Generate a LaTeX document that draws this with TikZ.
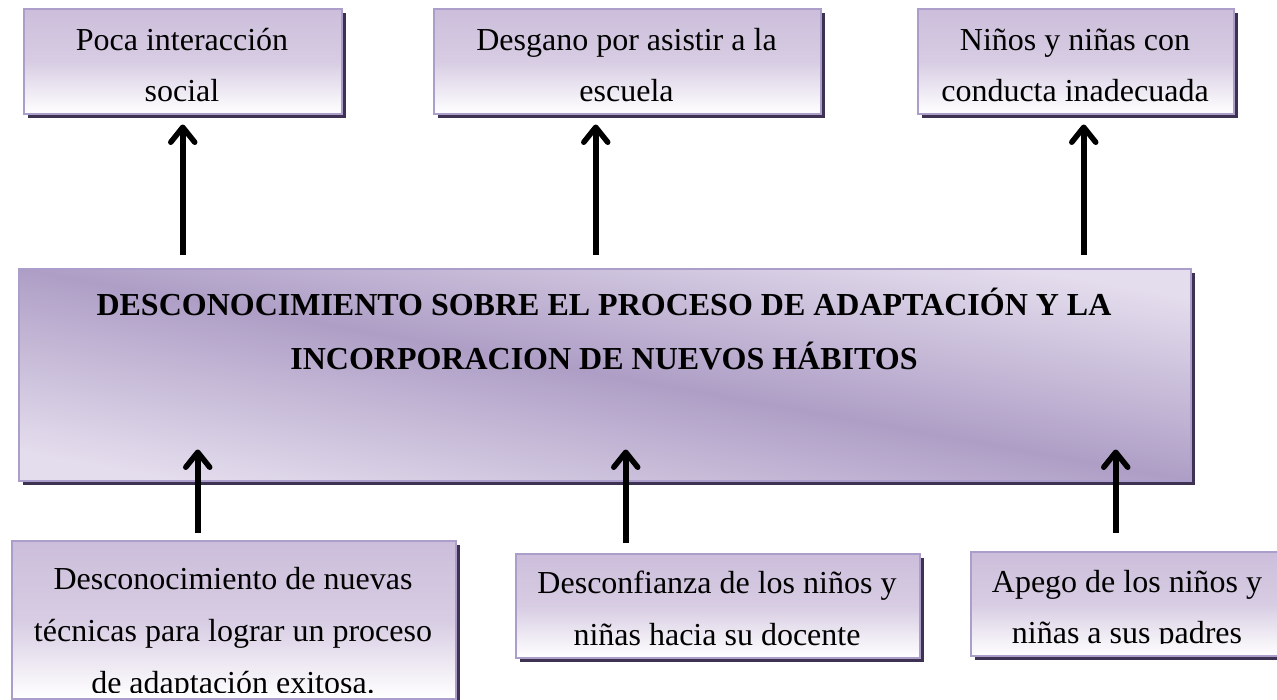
\documentclass[tikz,border=0pt]{standalone}
\usepackage{fontspec}
\setmainfont{Liberation Serif}
\usetikzlibrary{arrows.meta,shadows}
\definecolor{lavtop}{RGB}{204,190,219}
\definecolor{lavborder}{RGB}{172,158,202}
\definecolor{shadowc}{RGB}{62,50,82}
\definecolor{mainlight}{RGB}{228,221,237}
\definecolor{maindark}{RGB}{174,158,198}
\begin{document}
\begin{tikzpicture}[x=1pt,y=-1pt,
  boxshadow/.style={drop shadow={shadow xshift=4pt,shadow yshift=-4pt,fill=shadowc,opacity=1}},
  smallbox/.style={draw=lavborder,line width=1.5pt,top color=lavtop,bottom color=white,middle color=lavtop!78!white,
    anchor=north west,inner sep=0pt,boxshadow},
  mainbox/.style={draw=lavborder,line width=1.5pt,top color=mainlight,bottom color=mainlight,middle color=maindark,
    shading angle=-10.25,anchor=north west,inner sep=0pt,boxshadow},
  txt/.style={anchor=base,inner sep=0pt,font=\fontsize{32}{38}\selectfont},
  btxt/.style={anchor=base,inner sep=0pt,font=\fontsize{32}{38}\selectfont\bfseries},
  arr/.style={line width=5.5pt,-{Straight Barb[length=15pt,width=24pt,round]}}]
\useasboundingbox (0,0) rectangle (1277,699);

% top boxes
\node[smallbox,minimum width=318pt,minimum height=105pt] (t1) at (23,8) {};
\node[smallbox,minimum width=387pt,minimum height=105pt] (t2) at (433,8) {};
\node[smallbox,minimum width=316pt,minimum height=105pt] (t3) at (917,8) {};
% main box
\node[mainbox,minimum width=1172pt,minimum height=212pt] (m) at (18,268) {};
% bottom boxes
\node[smallbox,minimum width=444pt,minimum height=158pt] (b1) at (11,540) {};
\node[smallbox,minimum width=404pt,minimum height=104pt] (b2) at (515,553) {};
\node[smallbox,minimum width=314pt,minimum height=104pt] (b3) at (970,551) {};

% texts (clipped as in the reference)
\begin{scope}
\clip (23,8) rectangle (341,101);
\node[txt] (t1a) at (182,50) {Poca interacción};
\node[txt] (t1b) at (182,101) {social};
\end{scope}
\begin{scope}
\clip (433,8) rectangle (820,101);
\node[txt] (t2a) at (626.5,50) {Desgano por asistir a la};
\node[txt] (t2b) at (626.5,101) {escuela};
\end{scope}
\begin{scope}
\clip (917,8) rectangle (1233,101);
\node[txt] (t3a) at (1075,50) {Niños y niñas con};
\node[txt] (t3b) at (1075,101) {conducta inadecuada};
\end{scope}

\node[btxt] (ma) at (604,315) {DESCONOCIMIENTO SOBRE EL PROCESO DE ADAPTACIÓN Y LA};
\node[btxt] (mb) at (604,369) {INCORPORACION DE NUEVOS HÁBITOS};

\begin{scope}
\clip (11,540) rectangle (455,692);
\node[txt] (b1a) at (233,589) {Desconocimiento de nuevas};
\node[txt] (b1b) at (233,641) {técnicas para lograr un proceso};
\node[txt] (b1c) at (233,693) {de adaptación exitosa.};
\end{scope}
\begin{scope}
\clip (515,553) rectangle (919,645);
\node[txt] (b2a) at (717,593) {Desconfianza de los niños y};
\node[txt] (b2b) at (717,645) {niñas hacia su docente};
\end{scope}
\begin{scope}
\clip (970,551) rectangle (1284,643);
\node[txt] (b3a) at (1127,592) {Apego de los niños y};
\node[txt] (b3b) at (1127,643) {niñas a sus padres};
\end{scope}

% arrows up to the top boxes
\coordinate (a1) at (t1.south);
\coordinate (a2) at ([xshift=-31.5pt]t2.south);
\coordinate (a3) at ([xshift=8pt]t3.south);
\draw[arr,shorten <=13pt,shorten >=10pt] (a1 |- m.north) -- (a1);
\draw[arr,shorten <=13pt,shorten >=10pt] (a2 |- m.north) -- (a2);
\draw[arr,shorten <=13pt,shorten >=10pt] (a3 |- m.north) -- (a3);

% arrows from the bottom boxes
\coordinate (c1) at ([xshift=-36pt]b1.north);
\coordinate (c2) at ([xshift=-92pt]b2.north);
\coordinate (c3) at ([xshift=-12pt]b3.north);
\draw[arr,shorten <=7pt,shorten >=-32pt] (c1) -- (c1 |- m.south);
\draw[arr,shorten <=10pt,shorten >=-32pt] (c2) -- (c2 |- m.south);
\draw[arr,shorten <=18pt,shorten >=-32pt] (c3) -- (c3 |- m.south);
\end{tikzpicture}
\end{document}
